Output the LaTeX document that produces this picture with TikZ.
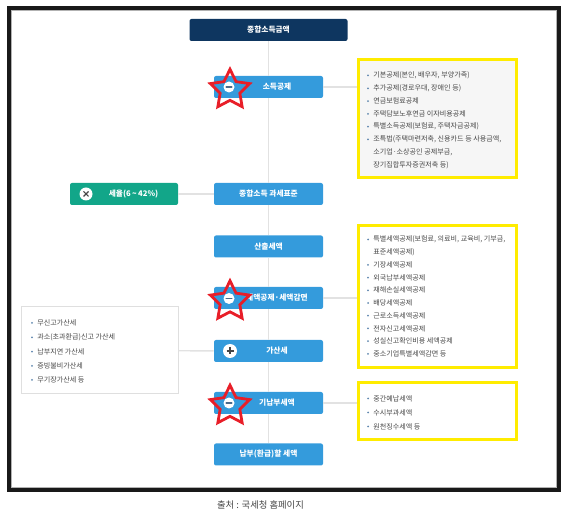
\documentclass[tikz,border=0pt]{standalone}
\usepackage{fontspec}
\setmainfont{Noto Sans CJK KR}
\usepackage{tikz}
\usetikzlibrary{shapes.geometric,calc}
\definecolor{NavyTitle}{RGB}{14,54,96}
\definecolor{BlueStep}{RGB}{52,155,220}
\definecolor{GreenRate}{RGB}{18,166,137}
\definecolor{YellowLine}{RGB}{255,236,0}
\definecolor{TrunkGray}{RGB}{226,226,226}
\definecolor{ItemGray}{RGB}{70,70,70}
\definecolor{BulletBlue}{RGB}{95,135,175}
\definecolor{RedStar}{RGB}{232,30,40}
\definecolor{FrameBlack}{RGB}{25,25,25}

\tikzset{
  stepbox/.style={fill=BlueStep,rounded corners=1.5pt,minimum width=81.75pt,
    minimum height=16.5pt,inner sep=0pt,text=white,font=\fontsize{5.8}{7}\selectfont\bfseries},
  listbox/.style={draw=YellowLine,line width=2.25pt,minimum width=118.5pt,inner sep=0pt},
  itemtext/.style={anchor=west,inner sep=0pt,text=ItemGray,font=\fontsize{5.3}{6}\selectfont},
  trunk/.style={draw=TrunkGray,line width=1.1pt},
  markstar/.style={star,star points=5,star point ratio=2.0,draw=RedStar,
    line width=2.1pt,minimum size=31pt,inner sep=0pt},
  signdot/.style={circle,fill=white,inner sep=0pt,minimum size=9pt},
}

\begin{document}
\begin{tikzpicture}[x=0.75pt,y=-0.75pt]
  \useasboundingbox (0,0) rectangle (568,516);
  % 바깥 테두리
  \draw[FrameBlack,line width=3pt] (9,8) rectangle (559,490);
  \draw[gray!60,line width=0.75pt] (11.5,10.5) rectangle (556.5,487.5);

  % 흐름 상자
  \node[stepbox,fill=NavyTitle,minimum width=118.5pt] (total) at (268.5,30) {종합소득금액};
  \node[stepbox] (sgj) at (268.5,87) {\hspace*{12.75pt}소득공제};
  \node[stepbox] (gsp) at (268.5,194) {종합소득 과세표준};
  \node[stepbox] (sc) at (268.5,246.5) {산출세액};
  \node[stepbox] (sgg) at (268.5,298) {\hspace*{12.75pt}세액공제·세액감면};
  \node[stepbox] (gss) at (268.5,351) {\hspace*{12.75pt}가산세};
  \node[stepbox] (gnb) at (268.5,403) {\hspace*{12.75pt}기납부세액};
  \node[stepbox] (npb) at (268.5,454.5) {납부(환급)할 세액};
  \node[stepbox,fill=GreenRate,minimum width=81pt] (rate) at (124,194)
    {\hspace*{14.25pt}세율(6\,\textasciitilde\,42\%)};

  % 설명 상자
  \node[listbox,fill=gray!7,minimum height=88.5pt] (list1) at (437,119) {};
  \node[listbox,minimum height=106.5pt] (list2) at (437,297) {};
  \node[listbox,minimum height=42.75pt] (list3) at (437,411.5) {};
  \node[draw=gray!25,line width=0.75pt,minimum width=117.75pt,minimum height=65.25pt,
    inner sep=0pt] (list4) at (99.5,350.5) {};

  % 연결선
  \draw[trunk] (total) -- (sgj) -- (gsp) -- (sc) -- (sgg) -- (gss) -- (gnb) -- (npb);
  \draw[trunk] (sgj.east) -- (sgj.east -| list1.west);
  \draw[trunk] (sgg.east) -- (sgg.east -| list2.west);
  \draw[trunk] (gnb.east) -- (gnb.east -| list3.west);
  \draw[trunk] (rate) -- (gsp);
  \draw[trunk] (list4) -- (gss);

  % 소득공제 항목
  \begin{scope}[every node/.append style={font=\fontsize{5.7}{6}\selectfont}]
  \foreach \yy/\txt [count=\i] in {75.5/{기본공제(본인, 배우자, 부양가족)},
      88.3/{추가공제(경로우대, 장애인 등)}, 101.1/{연금보험료공제},
      113.9/{주택담보노후연금 이자비용공제}, 126.7/{특별소득공제(보험료, 주택자금공제)},
      139.5/{조특법(주택마련저축, 신용카드 등 사용금액,}} {
    \fill[BulletBlue] (368,\yy) circle (0.75pt);
    \node[itemtext] (a\i) at (373,\yy) {\txt};
  }
  \node[itemtext] (a7) at (373,152.3) {소기업·소상공인 공제부금,};
  \node[itemtext] (a8) at (373,165.1) {장기집합투자증권저축 등)};
  \end{scope}

  % 세액공제 항목
  \node[itemtext] (b0) at (373,252.2) {표준세액공제)};
  \foreach \yy/\txt [count=\i] in {239.5/{특별세액공제(보험료, 의료비, 교육비, 기부금,},
      264.9/{기장세액공제}, 277.6/{외국납부세액공제}, 290.3/{재해손실세액공제},
      303/{배당세액공제}, 315.7/{근로소득세액공제}, 328.4/{전자신고세액공제},
      341.1/{성실신고확인비용 세액공제}, 353.8/{중소기업특별세액감면 등}} {
    \fill[BulletBlue] (368,\yy) circle (0.75pt);
    \node[itemtext] (b\i) at (373,\yy) {\txt};
  }

  % 기납부세액 항목
  \foreach \yy/\txt [count=\i] in {398.5/{중간예납세액}, 412.5/{수시부과세액},
      426.5/{원천징수세액 등}} {
    \fill[BulletBlue] (368,\yy) circle (0.75pt);
    \node[itemtext] (c\i) at (373,\yy) {\txt};
  }

  % 가산세 항목
  \begin{scope}[every node/.append style={font=\fontsize{5}{6}\selectfont}]
  \foreach \yy/\txt [count=\i] in {323/{무신고가산세}, 337.5/{과소(초과환급)신고 가산세},
      351.7/{납부지연 가산세}, 366/{증빙불비가산세}, 380/{무기장가산세 등}} {
    \fill[BulletBlue] (32,\yy) circle (0.75pt);
    \node[itemtext] (d\i) at (37,\yy) {\txt};
  }
  \end{scope}

  % 기호
  \node[signdot,minimum size=9.75pt] (times) at (86,194) {};
  \draw[ItemGray,line width=0.8pt] ($(times)+(-2.5,-2.5)$) -- ($(times)+(2.5,2.5)$);
  \draw[ItemGray,line width=0.8pt] ($(times)+(-2.5,2.5)$) -- ($(times)+(2.5,-2.5)$);
  \node[signdot,minimum size=10.5pt] (plus) at (230,351) {};
  \draw[ItemGray,line width=0.9pt] ($(plus)+(-3.5,0)$) -- ($(plus)+(3.5,0)$);
  \draw[ItemGray,line width=0.9pt] ($(plus)+(0,-3.5)$) -- ($(plus)+(0,3.5)$);
  \foreach \yy [count=\i] in {87,298.5,403} {
    \node[signdot,minimum size=8.25pt] (minus\i) at (229,\yy) {};
    \draw[BulletBlue!80!black,line width=1.1pt,line cap=round]
      ($(minus\i)+(-2.8,0)$) -- ($(minus\i)+(2.8,0)$);
    \node[markstar] (star\i) at (230,\yy+3) {};
  }

  % 출처
  \node[text=ItemGray,font=\fontsize{7}{8}\selectfont] (source) at (260.5,505) {출처 : 국세청 홈페이지};
\end{tikzpicture}
\end{document}
